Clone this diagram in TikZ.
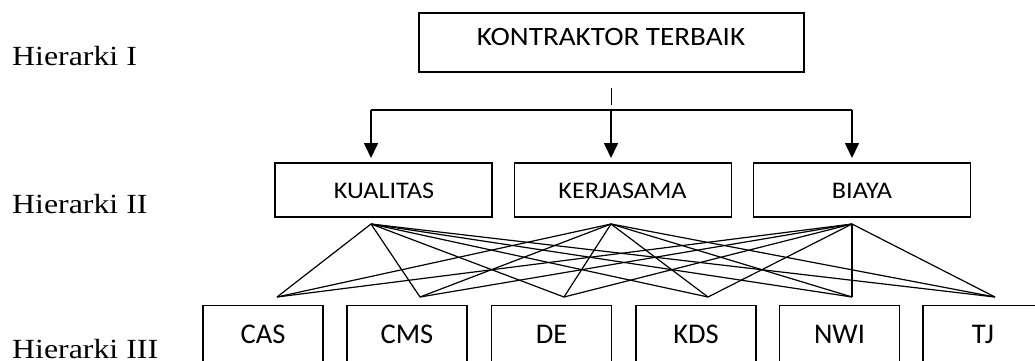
\documentclass[tikz,border=0pt]{standalone}
\usepackage{fontspec}
\setmainfont[FakeStretch=1.15]{Liberation Serif}
\newfontfamily\boxfont[FakeStretch=1.1]{Carlito}
\newfontfamily\boxfontc{Carlito}
\usetikzlibrary{arrows.meta}
\begin{document}
\begin{tikzpicture}[x=1pt,y=-1pt,
  box/.style={draw,line width=1.2pt,inner sep=0pt},
  ta/.style={anchor=base,inner sep=0pt,font=\boxfont\fontsize{26.5}{30}\selectfont},
  tb/.style={anchor=base,inner sep=0pt,font=\boxfont\fontsize{23.8}{27}\selectfont},
  tc/.style={anchor=base,inner sep=0pt,font=\boxfontc\fontsize{28.5}{32}\selectfont},
  lvl/.style={anchor=base west,inner sep=0pt,font=\fontsize{27.7}{31}\selectfont},
  arr/.style={line width=1.6pt,-{Triangle[width=14pt,length=15pt]}},
  link/.style={line width=1.2pt},
  stub/.style={line width=0.8pt}]
\useasboundingbox (0,0) rectangle (1035,360);
\clip (0,0) rectangle (1035,360);
% level labels
\node[lvl] (h1) at (12,65) {Hierarki I};
\node[lvl] (h2) at (12,213) {Hierarki II};
\node[lvl] (h3) at (12,358) {Hierarki III};
% top box
\node[box,minimum width=385pt,minimum height=59pt] (top) at (611.5,42.5) {};
\node[ta] (topt) at (611,45) {KONTRAKTOR TERBAIK};
% level 2
\node[box,minimum width=217pt,minimum height=54pt] (k) at (383.5,190) {};
\node[box,minimum width=217pt,minimum height=54pt] (kj) at (623,190) {};
\node[box,minimum width=217pt,minimum height=54pt] (b) at (862,190) {};
\node[tb] (kt) at (384,198.3) {KUALITAS};
\node[tb] (kjt) at (622.5,198.3) {KERJASAMA};
\node[tb] (bt) at (862,198.3) {BIAYA};
% level 3
\foreach \n/\t/\x in {cas/CAS/263,cms/CMS/407,de/DE/551.5,kds/KDS/696,nwi/NWI/839.5,tj/TJ/983}{
  \node[box,minimum width=120pt,minimum height=80pt,anchor=north] (\n) at (\x,305) {};
  \node[tc] (\n t) at (\x,343) {\t};
}
% connectors level 1 -> 2
\coordinate (s1) at (611,88);
\coordinate (s2) at (611,105);
\draw[stub] (s1) -- (s2);
\coordinate (hl) at (371,110);
\coordinate (hm) at (611,110);
\coordinate (hr) at (852,110);
\draw[line width=1.6pt] (hl) -- (hr);
\draw[arr] (hl) -- (371,158);
\draw[arr] (hm) -- (611,158);
\draw[arr] (hr) -- (852,158);
% apexes
\coordinate (ak) at (371,224);
\coordinate (akj) at (611,224);
\coordinate (ab) at (852,224);
\coordinate (pcas) at (277,297);
\coordinate (pcms) at (420,297);
\coordinate (pde) at (564,297);
\coordinate (pkds) at (708,297);
\coordinate (pnwi) at (852,297);
\coordinate (ptj) at (995,297);
\foreach \a in {ak,akj,ab}{
  \foreach \p in {pcas,pcms,pde,pkds,pnwi,ptj}{
    \draw[link,line join=round] (\a) -- (\p);
  }
}
\end{tikzpicture}
\end{document}
